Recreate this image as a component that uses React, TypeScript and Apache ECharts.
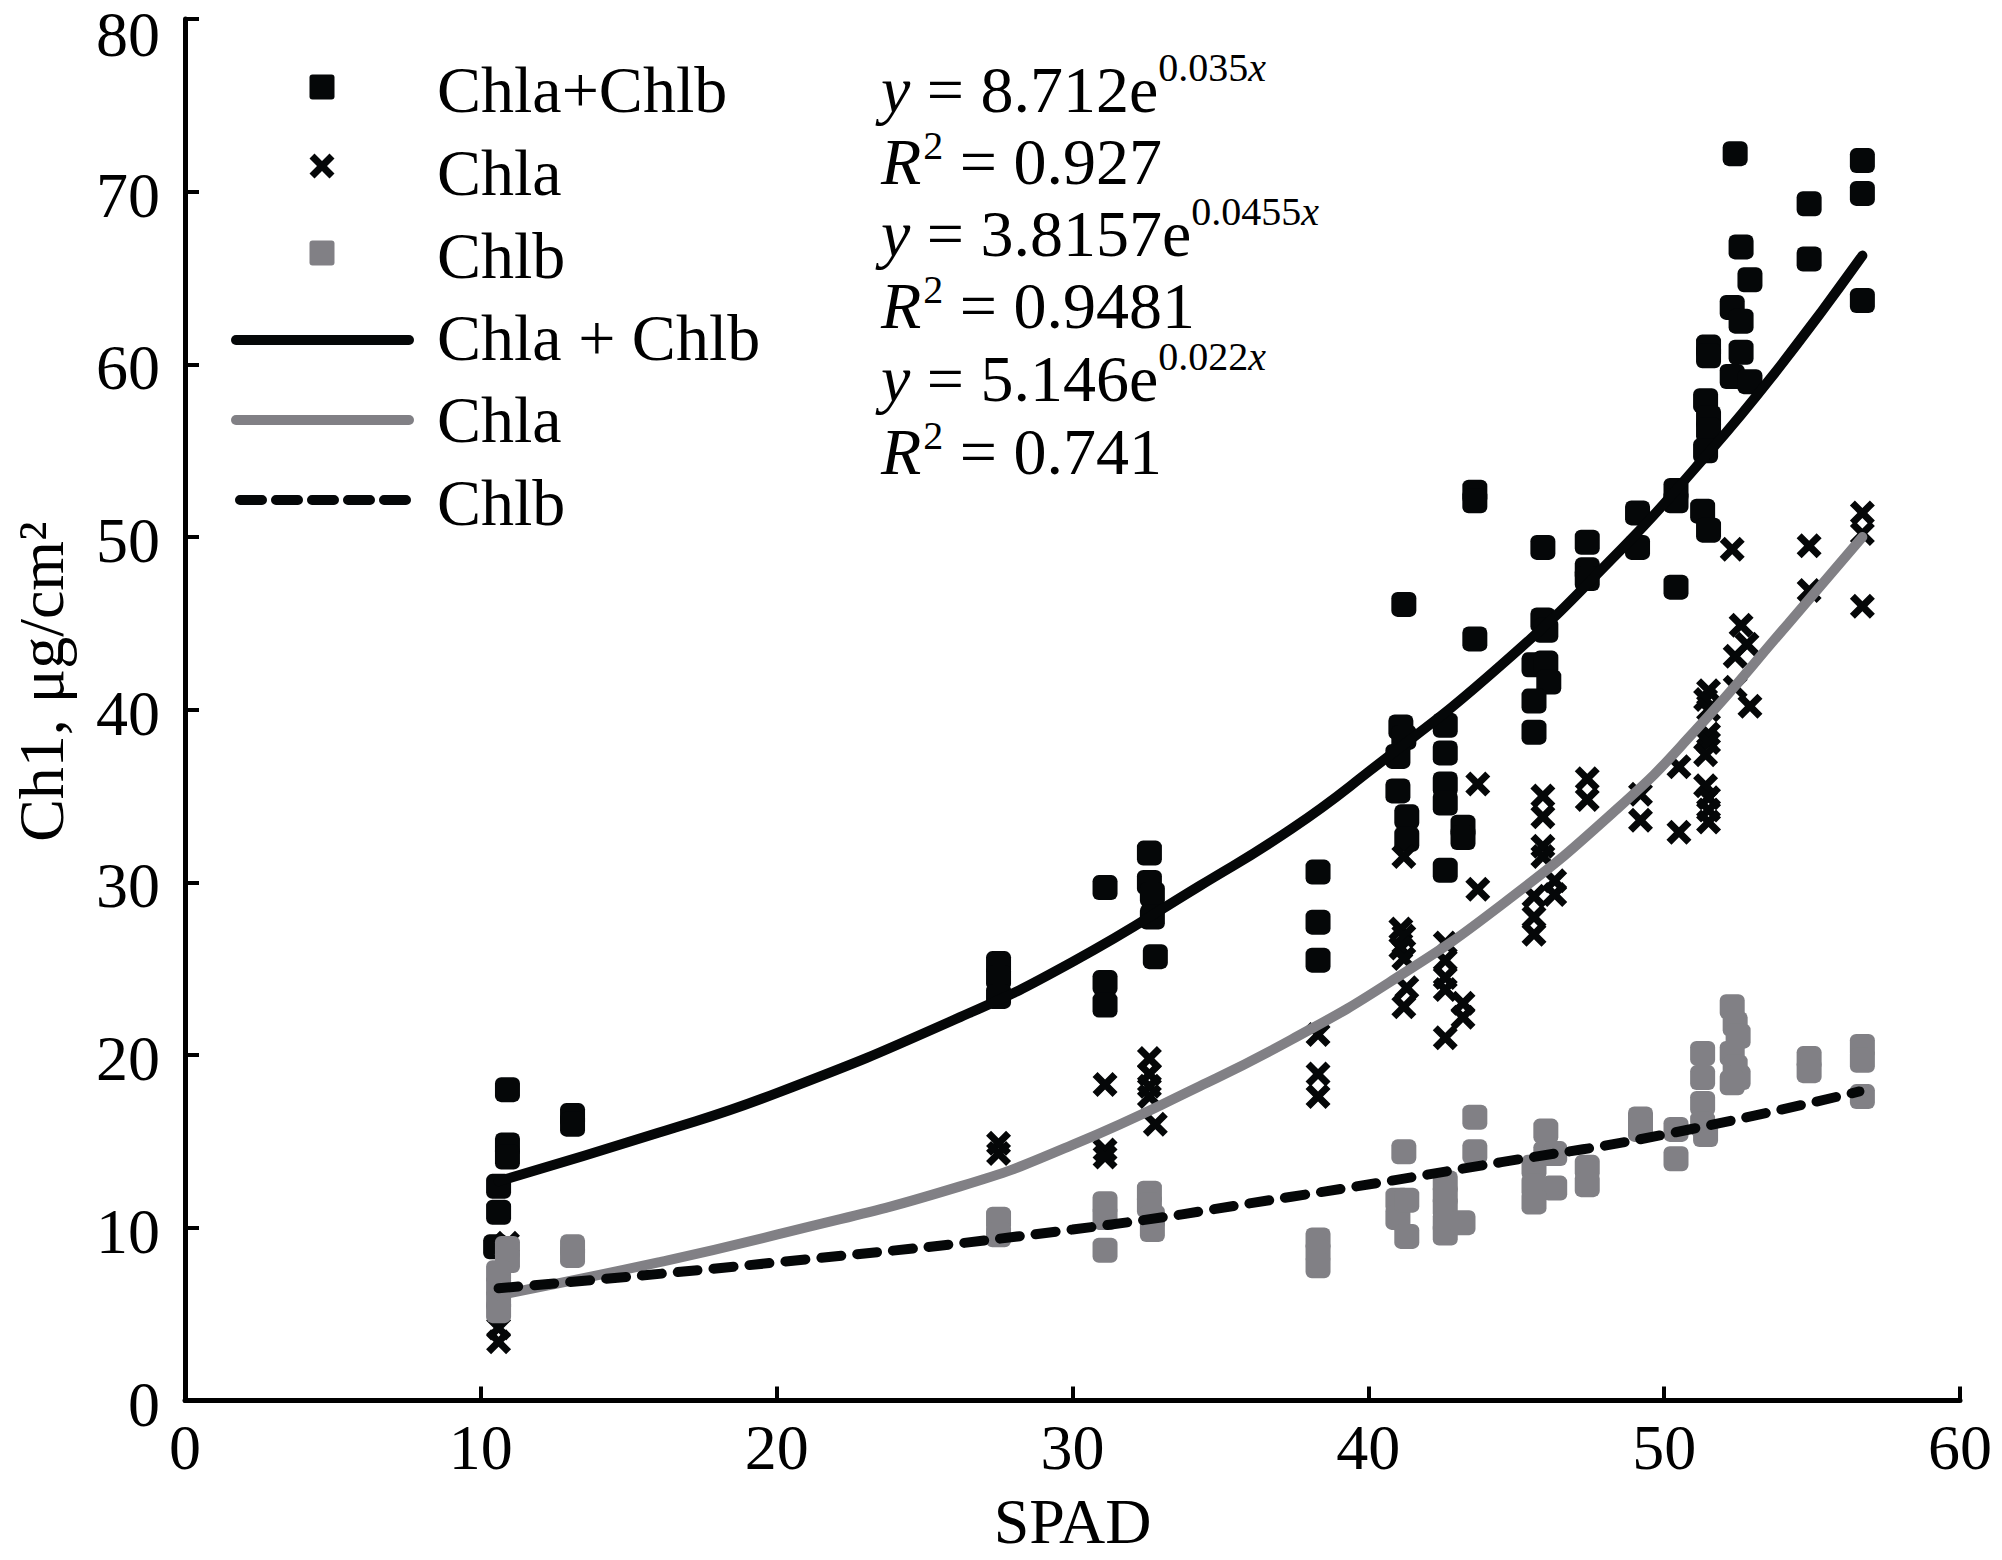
import React, { useEffect, useRef } from "react";
import * as echarts from "echarts";

// ---------- data ----------
const xTicks = [0, 10, 20, 30, 40, 50, 60];
const yTicks = [0, 10, 20, 30, 40, 50, 60, 70, 80];

// Chla+Chlb measured points [SPAD, Chl]
const chlTotal: number[][] = [
  [10.9, 18.0], [10.9, 14.8], [10.9, 14.1], [10.6, 12.4], [10.6, 10.9], [10.5, 8.9],
  [13.1, 16.5], [13.1, 16.0],
  [27.5, 25.3], [27.5, 24.5], [27.5, 23.4],
  [31.1, 29.7], [31.1, 24.2], [31.1, 22.9],
  [32.6, 31.7], [32.6, 30.0], [32.7, 29.3], [32.7, 28.0], [32.8, 25.7],
  [38.3, 30.6], [38.3, 27.7], [38.3, 25.5],
  [41.2, 46.1], [41.1, 39.0], [41.2, 38.4], [41.0, 37.3], [41.0, 35.3], [41.3, 33.8], [41.3, 32.5],
  [42.6, 39.1], [42.6, 37.5], [42.6, 35.7], [42.6, 34.6], [42.6, 30.7],
  [43.2, 33.2], [43.2, 32.6],
  [43.6, 52.6], [43.6, 52.1], [43.6, 44.1],
  [45.9, 49.4], [45.9, 45.2], [46.0, 44.6], [45.6, 42.6], [46.0, 42.7], [46.1, 41.6], [45.6, 40.5], [45.6, 38.7],
  [47.4, 49.7], [47.4, 48.1], [47.4, 47.6],
  [49.1, 51.4], [49.1, 49.4],
  [50.4, 52.7], [50.4, 52.1], [50.4, 47.1],
  [51.5, 61.0], [51.5, 60.5], [51.4, 57.9], [51.5, 56.9], [51.5, 56.2], [51.4, 55.0], [51.3, 51.5], [51.5, 50.4],
  [52.4, 72.2], [52.6, 66.8], [52.9, 64.9], [52.3, 63.3], [52.6, 62.5], [52.6, 60.7], [52.3, 59.3], [52.9, 59.0],
  [54.9, 69.3], [54.9, 66.1],
  [56.7, 71.8], [56.7, 69.9], [56.7, 63.7],
];

// Chla measured points
const chlA: number[][] = [
  [10.9, 9.1], [10.6, 4.2], [10.6, 3.4],
  [27.5, 14.9], [27.5, 14.3],
  [31.1, 18.3], [31.1, 14.5], [31.1, 14.1],
  [32.6, 19.8], [32.6, 18.9], [32.6, 18.2], [32.6, 17.6], [32.8, 16.0],
  [38.3, 21.2], [38.3, 18.9], [38.3, 17.6],
  [41.2, 31.5], [41.1, 27.3], [41.2, 26.9], [41.1, 26.2], [41.2, 25.6], [41.3, 23.9], [41.2, 22.8],
  [42.6, 26.5], [42.6, 25.5], [42.6, 24.5], [42.6, 23.8], [42.6, 21.0],
  [43.2, 23.0], [43.2, 22.2],
  [43.7, 35.7], [43.7, 29.6],
  [45.9, 35.0], [45.9, 33.8], [45.9, 32.1], [45.9, 31.5], [46.3, 30.1], [46.3, 29.3], [45.6, 29.2], [45.6, 28.0], [45.6, 27.0],
  [47.4, 36.0], [47.4, 34.8],
  [49.2, 35.1], [49.2, 33.6],
  [50.5, 36.7], [50.5, 32.9],
  [51.5, 41.1], [51.4, 40.6], [51.5, 40.0], [51.5, 38.6], [51.5, 38.1], [51.4, 37.4], [51.4, 35.6], [51.5, 34.9], [51.5, 34.2], [51.5, 33.5],
  [52.3, 49.3], [52.6, 44.9], [52.8, 43.8], [52.4, 43.1], [52.4, 41.3], [52.9, 40.2],
  [54.9, 49.5], [54.9, 46.9],
  [56.7, 51.4], [56.7, 50.2], [56.7, 46.0],
];

// Chlb measured points
const chlB: number[][] = [
  [10.9, 8.8], [10.9, 8.1], [10.6, 7.4], [10.6, 6.6], [10.6, 5.8], [10.6, 5.2],
  [13.1, 8.9], [13.1, 8.4],
  [27.5, 10.5], [27.5, 9.6],
  [31.1, 11.4], [31.1, 10.6], [31.1, 8.7],
  [32.6, 12.0], [32.6, 11.3], [32.7, 10.6], [32.7, 9.9],
  [38.3, 9.3], [38.3, 8.6], [38.3, 7.8],
  [41.2, 14.4], [41.0, 11.6], [41.0, 10.6], [41.3, 11.6], [41.3, 9.5],
  [42.6, 12.6], [42.6, 11.9], [42.6, 11.2], [42.6, 10.3], [42.6, 9.7],
  [43.2, 10.3],
  [43.6, 16.4], [43.6, 14.4],
  [46.0, 15.6], [46.0, 14.3], [46.3, 14.3], [46.3, 12.3], [45.6, 13.5], [45.6, 12.4], [45.6, 11.5],
  [47.4, 13.5], [47.4, 12.5],
  [49.2, 16.3], [49.2, 15.7],
  [50.4, 15.7], [50.4, 14.0],
  [51.3, 20.1], [51.3, 18.7], [51.3, 17.2], [51.3, 16.0], [51.4, 15.4],
  [52.3, 22.8], [52.4, 21.8], [52.5, 21.1], [52.3, 20.1], [52.4, 19.3], [52.5, 18.7], [52.3, 18.4],
  [54.9, 19.8], [54.9, 19.1],
  [56.7, 20.5], [56.7, 19.7], [56.7, 17.6],
];

// fitted curves
const fitTotal: number[][] = [
  [10.6, 12.7], [16, 15.5], [20, 17.8], [26.2, 22.2], [30, 25.4], [34.3, 29.8], [37.4, 33.1],
  [40, 36.4], [44.5, 42.6], [48.5, 49.2], [51, 53.9], [53.6, 59.2], [56.7, 66.3],
];
const fitA: number[][] = [
  [10.6, 6.1], [16, 8.0], [20, 9.6], [26.2, 12.4], [30, 14.8], [34.3, 18.2], [37.4, 20.9],
  [40.7, 24.2], [44.5, 28.7], [48.5, 34.4], [51, 38.7], [54.2, 45.0], [56.7, 50.0],
];
const fitB: number[][] = [
  [10.6, 6.5], [20, 8.0], [30, 9.9], [37.4, 11.8], [44.5, 13.8], [50, 15.4], [56.6, 17.9],
];

const legendLabels = ["Chla+Chlb", "Chla", "Chlb", "Chla + Chlb", "Chla", "Chlb"];
const eqLines = [
  { lead: "y", body: " = 8.712e", sup: "0.035", supVar: "x" },
  { lead: "R", sup: "2", body: " = 0.927", supVar: "" },
  { lead: "y", body: " = 3.8157e", sup: "0.0455", supVar: "x" },
  { lead: "R", sup: "2", body: " = 0.9481", supVar: "" },
  { lead: "y", body: " = 5.146e", sup: "0.022", supVar: "x" },
  { lead: "R", sup: "2", body: " = 0.741", supVar: "" },
];

// ---------- styling ----------
const FONT = "'Liberation Serif', serif";
const BLACK = "#050708";
const GRAY = "#818085";
const CROSS_PTS = [
  [0, 20], [20, 0], [50, 30], [80, 0], [100, 20], [70, 50],
  [100, 80], [80, 100], [50, 70], [20, 100], [0, 80], [30, 50],
];
const CROSS_PATH =
  "path://" + CROSS_PTS.map((p, i) => (i === 0 ? "M" : "L") + p[0] + "," + p[1]).join("") + "Z";

function measure(text: string, size: number, italic: boolean): number {
  const c = document.createElement("canvas").getContext("2d");
  if (!c) return text.length * size * 0.5;
  c.font = `${italic ? "italic " : ""}${size}px ${FONT}`;
  return c.measureText(text).width;
}

export default function App() {
  const ref = useRef<HTMLDivElement>(null);

  useEffect(() => {
    const chart = echarts.init(ref.current as HTMLDivElement, null, { renderer: "svg" });

    const legendX = 322;
    const lineX1 = 236;
    const lineX2 = 409;
    const textX = 437;
    const textYs = [89, 172, 255, 337, 419, 502];
    const symYs = [87, 166, 253, 340, 420, 500];
    const symSize = 25;

    const txt = (x: number, y: number, text: string, size: number, italic: boolean, lh: number) => ({
      type: "text",
      x,
      y,
      style: {
        text,
        fontSize: size,
        fontFamily: FONT,
        fontStyle: italic ? "italic" : "normal",
        lineHeight: lh,
        fill: "#000",
        align: "left",
        verticalAlign: "middle",
      },
    });

    const graphics: any[] = [];
    // legend symbols
    graphics.push({
      type: "rect",
      shape: { x: legendX - symSize / 2, y: symYs[0] - symSize / 2, width: symSize, height: symSize, r: 3 },
      style: { fill: BLACK },
    });
    graphics.push({
      type: "polygon",
      shape: {
        points: CROSS_PTS.map((p) => [
          legendX - symSize / 2 + (p[0] * symSize) / 100,
          symYs[1] - symSize / 2 + (p[1] * symSize) / 100,
        ]),
      },
      style: { fill: BLACK },
    });
    graphics.push({
      type: "rect",
      shape: { x: legendX - symSize / 2, y: symYs[2] - symSize / 2, width: symSize, height: symSize, r: 3 },
      style: { fill: GRAY },
    });
    graphics.push({
      type: "line",
      shape: { x1: lineX1, y1: symYs[3], x2: lineX2, y2: symYs[3] },
      style: { stroke: BLACK, lineWidth: 10, lineCap: "round" },
    });
    graphics.push({
      type: "line",
      shape: { x1: lineX1, y1: symYs[4], x2: lineX2, y2: symYs[4] },
      style: { stroke: GRAY, lineWidth: 10, lineCap: "round" },
    });
    graphics.push({
      type: "line",
      shape: { x1: lineX1 + 4, y1: symYs[5], x2: lineX2, y2: symYs[5] },
      style: { stroke: BLACK, lineWidth: 10, lineCap: "round", lineDash: [22, 14] },
    });
    legendLabels.forEach((t, i) => {
      graphics.push(txt(textX, textYs[i], t, 66, false, 66));
    });

    // equations: main text plus separate superscripts
    const eqX = 881;
    const eqYs = [89, 161, 233, 305, 378, 451];
    const MAIN = 66;
    const SUP = 40;
    eqLines.forEach((l, i) => {
      const y = eqYs[i];
      const wLead = measure(l.lead, MAIN, true);
      graphics.push(txt(eqX, y, l.lead, MAIN, true, 60));
      if (l.lead === "R") {
        const xs = eqX + wLead + 2;
        graphics.push(txt(xs, y - 16, l.sup, SUP, false, 30));
        const wSup = measure(l.sup, SUP, false);
        graphics.push(txt(xs + wSup, y, l.body, MAIN, false, 60));
      } else {
        const xb = eqX + wLead;
        graphics.push(txt(xb, y, l.body, MAIN, false, 60));
        const wBody = measure(l.body, MAIN, false);
        const xs = xb + wBody;
        graphics.push(txt(xs, y - 22, l.sup, SUP, false, 30));
        const wSup = measure(l.sup, SUP, false);
        graphics.push(txt(xs + wSup, y - 22, l.supVar, SUP, true, 30));
      }
    });

    const yTop = yTicks[yTicks.length - 1];

    const option: any = {
      animation: false,
      backgroundColor: "#ffffff",
      grid: {
        left: 185,
        right: 42,
        top: 19,
        bottom: 159.5,
        containLabel: false,
        outerBoundsMode: "none",
      },
      xAxis: {
        type: "value",
        min: xTicks[0],
        max: xTicks[xTicks.length - 1],
        interval: 10,
        name: "SPAD",
        nameLocation: "middle",
        nameGap: 89,
        nameTextStyle: { fontFamily: FONT, fontSize: 64, color: "#000" },
        axisLine: { show: true, lineStyle: { color: "#000", width: 5 } },
        axisTick: { show: true, inside: true, length: 14, lineStyle: { color: "#000", width: 4 } },
        axisLabel: { fontFamily: FONT, fontSize: 64, color: "#000", margin: 15 },
        splitLine: { show: false },
      },
      yAxis: {
        type: "value",
        min: yTicks[0],
        max: yTop,
        interval: 10,
        name: "Ch1, μg/cm²",
        nameLocation: "middle",
        nameRotate: 90,
        nameGap: 112,
        nameTextStyle: { fontFamily: FONT, fontSize: 64, color: "#000", padding: [0, 0, 0, 56] },
        axisLine: { show: true, lineStyle: { color: "#000", width: 5 } },
        axisTick: { show: true, inside: true, length: 14, lineStyle: { color: "#000", width: 4 } },
        axisLabel: {
          fontFamily: FONT,
          fontSize: 64,
          color: "#000",
          margin: 25,
          lineHeight: 30,
          padding: [7, 0, 0, 0],
          formatter: (v: number) => (v === yTop ? `{top|${v}}` : `${v}`),
          rich: {
            top: { fontFamily: FONT, fontSize: 64, color: "#000", lineHeight: 30, padding: [24, 0, 0, 0] },
          },
        },
        splitLine: { show: false },
      },
      series: [
        {
          name: "Chla+Chlb",
          type: "scatter",
          data: chlTotal,
          symbol: "roundRect",
          symbolSize: symSize,
          itemStyle: { color: BLACK, opacity: 1 },
          z: 2,
        },
        {
          name: "Chla",
          type: "scatter",
          data: chlA,
          symbol: CROSS_PATH,
          symbolSize: symSize,
          itemStyle: { color: BLACK, opacity: 1 },
          z: 3,
        },
        {
          name: "Chlb",
          type: "scatter",
          data: chlB,
          symbol: "roundRect",
          symbolSize: symSize,
          itemStyle: { color: GRAY, opacity: 1 },
          z: 4,
        },
        {
          name: "Chla + Chlb fit",
          type: "line",
          data: fitTotal,
          smooth: true,
          showSymbol: false,
          symbol: "none",
          lineStyle: { color: BLACK, width: 10, cap: "round" },
          z: 5,
        },
        {
          name: "Chla fit",
          type: "line",
          data: fitA,
          smooth: true,
          showSymbol: false,
          symbol: "none",
          lineStyle: { color: GRAY, width: 10, cap: "round" },
          z: 6,
        },
        {
          name: "Chlb fit",
          type: "line",
          data: fitB,
          smooth: true,
          showSymbol: false,
          symbol: "none",
          lineStyle: { color: BLACK, width: 10, type: [20, 16], cap: "round" },
          z: 7,
        },
      ],
      graphic: graphics,
    };

    chart.setOption(option);
    return () => chart.dispose();
  }, []);

  return (
    <div
      ref={ref}
      style={{ position: "fixed", left: 0, top: 0, width: 2002, height: 1560, background: "#ffffff" }}
    />
  );
}
